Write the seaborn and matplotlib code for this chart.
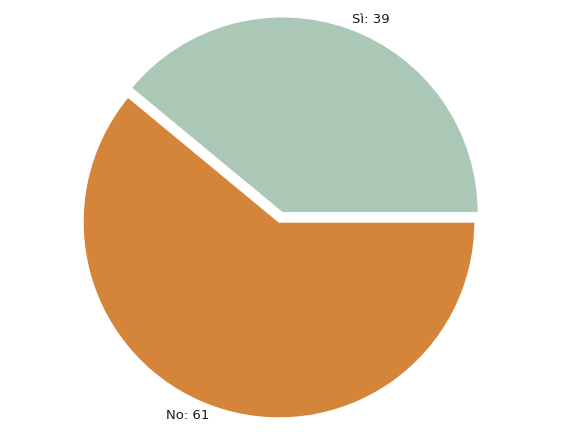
import matplotlib
matplotlib.use("Agg")
import matplotlib.pyplot as plt
import seaborn as sns

# === Data ===
labels = ["Sì", "No"]
values = [39, 61]
colors = ["#abc7b6", "#d5853a"]
explode = [0.05, 0.0]

sns.set_theme(style="white")
plt.rcParams["font.family"] = ["DejaVu Sans"]

fig = plt.figure(figsize=(5.68, 4.37), dpi=100)
cx, cy, r = 279, 222, 196
ax = fig.add_axes([(cx - r) / 568, (437 - cy - r) / 437, 2 * r / 568, 2 * r / 437])

wedges, texts = ax.pie(
    values,
    labels=[f"{l}: {v}" for l, v in zip(labels, values)],
    colors=colors,
    explode=explode,
    startangle=0,
    counterclock=True,
    labeldistance=1.05,
    textprops={"fontsize": 9.5, "color": "#1a1a1a"},
)
for w in wedges:
    w.set_clip_on(False)

ax.set_xlim(-1, 1)
ax.set_ylim(-1, 1)
ax.set_aspect("auto")
ax.axis("off")

fig.savefig("out.png", dpi=100)
